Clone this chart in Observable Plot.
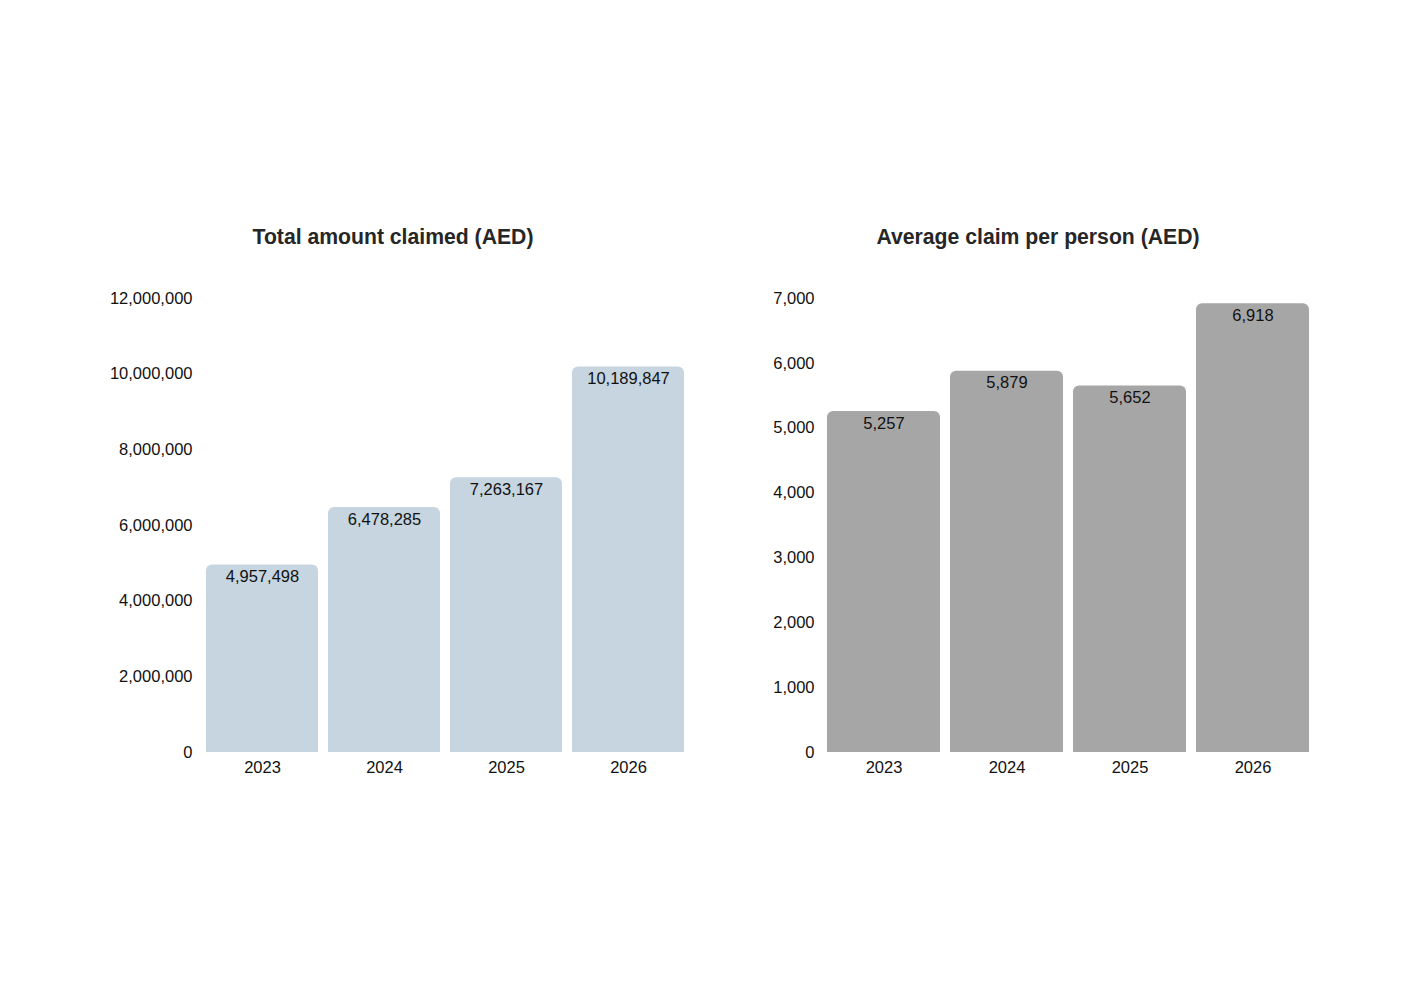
<!DOCTYPE html>
<html><head><meta charset="utf-8">
<script src="https://cdn.jsdelivr.net/npm/d3@7"></script>
<script src="https://cdn.jsdelivr.net/npm/@observablehq/plot@0.6"></script>
<style>
body{margin:0;background:#fff;font-family:"Liberation Sans",Arial,sans-serif;}
#wrap{position:relative;width:1414px;height:1000px;overflow:hidden;}
.title{position:absolute;top:225px;font-weight:bold;font-size:21.2px;color:#262626;text-align:center;white-space:nowrap;}
.panel{position:absolute;top:0;}
</style></head>
<body><div id="wrap">
<div class="title" style="left:193px;width:400px">Total amount claimed (AED)</div>
<div class="title" style="left:838px;width:400px">Average claim per person (AED)</div>
<div class="panel" id="p1" style="left:0px"></div>
<div class="panel" id="p2" style="left:707px"></div>
</div>
<script>
const years = ["2023","2024","2025","2026"];
const totalClaimed = [4957498, 6478285, 7263167, 10189847];
const avgClaim = [5257, 5879, 5652, 6918];
const totalTicks = [0,2000000,4000000,6000000,8000000,10000000,12000000];
const avgTicks = [0,1000,2000,3000,4000,5000,6000,7000];

const fmt = d3.format(",");

function panel(values, ticks, domainMax, color, mL, mR) {
  const data = years.map((y,i)=>({year:y, value:values[i]}));
  return Plot.plot({
    width: 707, height: 1000,
    marginTop: 298, marginBottom: 248, marginLeft: mL, marginRight: mR,
    style: {fontFamily: '"Liberation Sans", Arial, sans-serif', fontSize: "16.5px", color: "#111", background: "transparent"},
    x: {domain: years, paddingInner: 0.08, paddingOuter: 0, label: null, tickSize: 0, tickPadding: 9},
    y: {domain: [0, domainMax], ticks: ticks, tickFormat: fmt, label: null, tickSize: 0, tickPadding: 13},
    marks: [
      Plot.barY(data, {x:"year", y:"value", fill: color, ry1: 6}),
      Plot.text(data, {x:"year", y:"value", text: d=>fmt(d.value), dy: 12, fill:"#111", fontSize: 16.5})
    ]
  });
}
document.getElementById("p1").append(panel(totalClaimed, totalTicks, 12000000, "#c6d5e0", 205, 21));
document.getElementById("p2").append(panel(avgClaim, avgTicks, 7000, "#a6a6a6", 120, 104));
</script>
</body></html>
